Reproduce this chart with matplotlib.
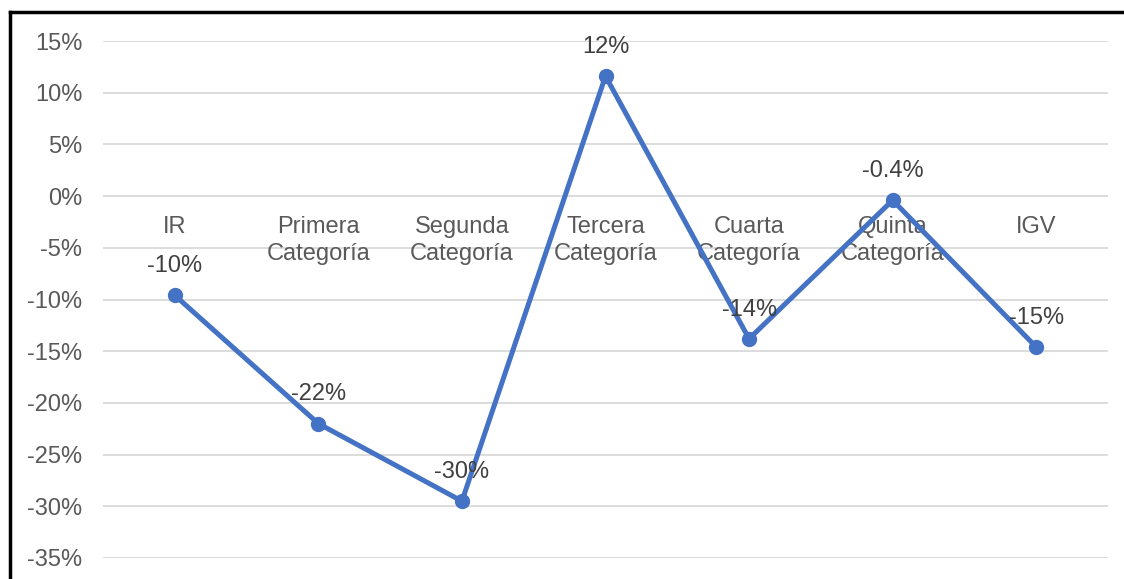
import matplotlib.pyplot as plt
from matplotlib.lines import Line2D
from matplotlib.ticker import FuncFormatter

plt.rcParams['font.family'] = ['Liberation Sans', 'DejaVu Sans']

# datos
categorias = ['IR', 'Primera\nCategoría', 'Segunda\nCategoría', 'Tercera\nCategoría',
              'Cuarta\nCategoría', 'Quinta\nCategoría', 'IGV']
valores = [-0.096, -0.22, -0.295, 0.116, -0.138, -0.004, -0.146]
etiquetas = ['-10%', '-22%', '-30%', '12%', '-14%', '-0.4%', '-15%']
y_ticks = [0.15, 0.10, 0.05, 0.0, -0.05, -0.10, -0.15, -0.20, -0.25, -0.30, -0.35]

gris = '#595959'
azul = '#4472C4'
fs = 17

fig = plt.figure(figsize=(11.24, 5.79), dpi=100)
ax = fig.add_axes([103 / 1124, 1 - 558 / 579, 1005 / 1124, 517 / 579])

x = list(range(len(categorias)))
ax.plot(x, valores, color=azul, lw=3.6, marker='o', ms=10, solid_capstyle='round', zorder=3)

# etiquetas de datos encima de cada punto
for xi, v, t in zip(x, valores, etiquetas):
    ax.annotate(t, (xi, v), xytext=(0, 21), textcoords='offset points',
                ha='center', va='center', fontsize=fs, color='#404040', zorder=4)

# etiquetas de categoría junto al eje en 0
for xi, c in zip(x, categorias):
    ax.annotate(c, (xi, 0), xytext=(0, -14), textcoords='offset points',
                ha='center', va='top', fontsize=fs, color=gris, linespacing=1.3, zorder=2)

ax.set_xlim(-0.5, len(categorias) - 0.5)
ax.set_ylim(-0.35, 0.15)
ax.set_yticks(y_ticks)
ax.yaxis.set_major_formatter(FuncFormatter(lambda v, p: f'{round(v * 100):d}%'))
ax.set_xticks([])
ax.tick_params(axis='y', length=0, pad=15, labelsize=fs, labelcolor=gris)
ax.grid(axis='y', color='#D9D9D9', lw=1.3)
ax.set_axisbelow(True)
for s in ax.spines.values():
    s.set_visible(False)

# borde negro arriba e izquierda
fig.add_artist(Line2D([10 / 1124, 10 / 1124], [0, 1 - 12 / 579], color='black', lw=2.5,
                      transform=fig.transFigure, solid_capstyle='projecting'))
fig.add_artist(Line2D([10 / 1124, 1], [1 - 12 / 579, 1 - 12 / 579], color='black', lw=2.5,
                      transform=fig.transFigure, solid_capstyle='projecting'))

fig.savefig('out.png', dpi=100)
